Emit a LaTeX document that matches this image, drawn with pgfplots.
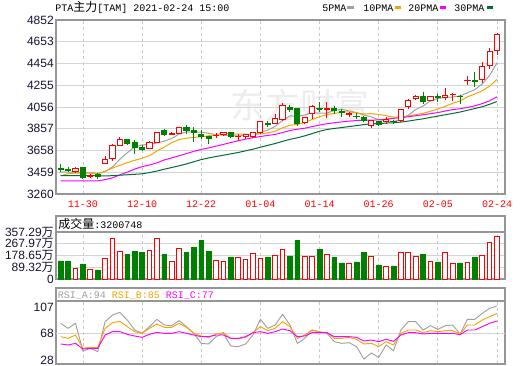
\documentclass[border=0pt]{standalone}
\usepackage{fontspec}
\setmainfont{Liberation Sans}
\newfontfamily\mono{Liberation Mono}
\newfontfamily\cjk{Noto Sans CJK SC}
\usepackage{pgfplots}
\usepackage{pgfplotstable}
\pgfplotsset{compat=1.18}
\usepgfplotslibrary{statistics}
\definecolor{dgreen}{RGB}{0,128,0}
\definecolor{ma5c}{RGB}{160,160,160}
\definecolor{ma10c}{RGB}{245,165,0}
\definecolor{ma20c}{RGB}{255,0,255}
\definecolor{ma30c}{RGB}{0,110,55}
\definecolor{gridh}{RGB}{212,212,212}
\definecolor{gridv}{RGB}{200,200,200}
\definecolor{bordc}{RGB}{150,150,150}
\definecolor{labc}{RGB}{20,20,50}

% candle: {index}{low}{body low}{body high}{high}
\newcommand{\upc}[5]{\addplot[draw=red,fill=white,line width=0.75pt,boxplot prepared={draw position=#1,lower whisker=#2,lower quartile=#3,median=#3,upper quartile=#4,upper whisker=#5}] coordinates {};}
\newcommand{\dnc}[5]{\addplot[draw=dgreen,fill=dgreen,line width=0.75pt,boxplot prepared={draw position=#1,lower whisker=#2,lower quartile=#3,median=#3,upper quartile=#4,upper whisker=#5}] coordinates {};}

\pgfplotstableread{
i ma5 ma10 ma20 ma30
0 3460 3427 3380 3428
1 3460 3445 3380 3428
2 3458 3452 3380 3428
3 3455 3452 3380 3428
4 3457 3450 3380 3428
5 3445 3448 3380 3428
6 3465 3468 3392 3425
7 3508 3497 3408 3428
8 3578 3522 3435 3432
9 3637 3547 3460 3436
10 3691 3568 3488 3440
11 3709 3587 3510 3445
12 3714 3611 3525 3456
13 3727 3653 3545 3470
14 3743 3690 3572 3487
15 3768 3729 3590 3502
16 3807 3758 3610 3518
17 3829 3771 3630 3535
18 3828 3777 3650 3555
19 3825 3784 3668 3575
20 3816 3792 3682 3590
21 3803 3805 3698 3603
22 3798 3814 3714 3615
23 3792 3810 3731 3627
24 3791 3808 3747 3640
25 3798 3807 3762 3655
26 3803 3803 3775 3670
27 3823 3811 3786 3688
28 3845 3819 3796 3705
29 3879 3835 3805 3722
30 3933 3865 3822 3742
31 3975 3889 3841 3760
32 3971 3897 3853 3774
33 3983 3914 3862 3792
34 4005 3942 3877 3813
35 3999 3966 3891 3834
36 4001 3988 3903 3850
37 4024 3997 3912 3860
38 4035 4009 3920 3868
39 4020 4012 3927 3877
40 4005 4002 3932 3886
41 3983 3992 3935 3895
42 3965 3995 3936 3902
43 3941 3988 3938 3904
44 3931 3976 3945 3909
45 3922 3964 3952 3912
46 3944 3963 3960 3918
47 3981 3973 3967 3927
48 4032 3986 3976 3938
49 4065 3998 3985 3948
50 4112 4017 3995 3961
51 4134 4039 4005 3973
52 4143 4062 4019 3985
53 4148 4090 4032 3997
54 4157 4111 4040 4010
55 4186 4149 4051 4026
56 4215 4174 4067 4042
57 4267 4205 4087 4058
58 4345 4247 4113 4081
59 4460 4308 4149 4106
}\matab

\pgfplotstableread{
i a b c
0 83 63 52
1 75.5 60.5 50.5
2 83 65.5 53
3 41.5 45.5 44.5
4 45.5 47 45.5
5 40.5 46.5 45.5
6 85.5 75.5 65.5
7 95.5 84 70.5
8 99.5 86 70.5
9 88 78 66.5
10 73 70.5 64
11 68 68 62
12 78 75.5 66.5
13 89 82 69.5
14 80.5 77 68
15 79.5 77 68
16 87 83 70.5
17 78 77 68
18 68 68 65.5
19 53 64 63
20 52 62 63
21 63 67 65.5
22 68 69 65.5
23 49 60.5 60.5
24 48 60 60.5
25 52 62 63
26 65.5 69 69
27 89 78 70.5
28 75.5 72 68
29 80.5 75.5 70.5
30 96.5 85.5 74.5
31 80.5 78 72
32 53 60.5 63
33 60.5 65.5 64
34 73 73 69
35 70.5 69.5 69
36 68 69.5 69
37 55.5 60.5 63
38 53 60.5 63
39 54 62 63
40 48 59 62
41 29.5 52 56.5
42 38.5 53 58
43 32 48 55.5
44 50.5 55.5 59
45 42 50.5 56
46 73 68 65.5
47 85.5 73 69
48 85.5 73 69
49 73 69 67
50 79.5 72 68
51 74 70.5 68
52 79.5 72 68
53 80.5 72 68
54 67 67 66
55 89 80.5 73
56 89 80.5 73
57 98 88 78
58 105.5 93 83
59 109 98 86.5
}\rsitab

\pgfplotsset{
  panel/.style={anchor=south west, width=336.75pt, scale only axis,
    xmin=-0.64, xmax=60.08,
    xtick={3,11,19,27,35,43,51,59},
    tick style={draw=none}, major tick length=0pt,
    xmajorgrids,
    x grid style={gridv, dash pattern=on 2.2pt off 2.2pt, line width=0.6pt},
    y grid style={gridh, line width=0.6pt},
    axis line style={bordc, line width=0.9pt},
    yticklabel style={font=\fontsize{9}{9}\selectfont, text=labc, inner sep=1.5pt},
  }
}

\begin{document}
\begin{tikzpicture}
\useasboundingbox (0,0) rectangle (390pt,273.75pt);
\begin{scope}[x=0.75pt,y=-0.75pt,yshift=273.75pt]
  \node[text=black!7, font=\cjk\fontsize{26}{26}\selectfont] at (300,105) {东方财富};
\end{scope}

% ---------------- main candlestick panel
\begin{axis}[panel,
  at={(42pt,128.25pt)}, height=130.5pt,
  ymin=3260, ymax=4852,
  ytick={3260,3459,3658,3857,4056,4255,4454,4653,4852},
  yticklabels={3260,3459,3658,3857,4056,4255,4454,4653,4852},
  ymajorgrids,
  xticklabels={11-30,12-10,12-22,01-04,01-14,01-26,02-05,02-24},
  xticklabel style={font=\mono\fontsize{7.5}{8}\selectfont, text=red, yshift=-1.5pt},
  boxplot/draw direction=y, boxplot/box extend=0.7, boxplot/whisker extend=0,
]
\addplot[ma5c, line width=0.75pt] table[x=i,y=ma5] {\matab};
\addplot[ma10c, line width=0.75pt] table[x=i,y=ma10] {\matab};
\addplot[ma20c, line width=0.75pt] table[x=i,y=ma20] {\matab};
\addplot[ma30c, line width=0.75pt] table[x=i,y=ma30] {\matab};
\dnc{0}{3464}{3482}{3491}{3535}
\dnc{1}{3464}{3475}{3480}{3510}
\upc{2}{3460}{3465}{3495}{3504}
\dnc{3}{3400}{3409}{3504}{3510}
\upc{4}{3415}{3418}{3425}{3440}
\dnc{5}{3397}{3420}{3438}{3449}
\upc{6}{3535}{3541}{3578}{3610}
\upc{7}{3560}{3583}{3706}{3715}
\upc{8}{3700}{3708}{3760}{3780}
\dnc{9}{3712}{3720}{3755}{3760}
\dnc{10}{3625}{3690}{3727}{3754}
\dnc{11}{3656}{3668}{3684}{3706}
\upc{12}{3672}{3678}{3733}{3745}
\upc{13}{3730}{3733}{3825}{3830}
\dnc{14}{3790}{3800}{3837}{3852}
\upc{15}{3800}{3808}{3812}{3825}
\upc{16}{3812}{3815}{3864}{3870}
\dnc{17}{3812}{3842}{3864}{3894}
\dnc{18}{3733}{3820}{3840}{3870}
\dnc{19}{3760}{3788}{3803}{3846}
\dnc{20}{3715}{3767}{3785}{3790}
\upc{21}{3769}{3792}{3796}{3821}
\upc{22}{3795}{3800}{3821}{3830}
\dnc{23}{3768}{3787}{3821}{3827}
\upc{24}{3748}{3786}{3790}{3812}
\upc{25}{3760}{3783}{3800}{3812}
\upc{26}{3775}{3785}{3821}{3830}
\upc{27}{3815}{3821}{3922}{3925}
\dnc{28}{3870}{3898}{3903}{3931}
\upc{29}{3898}{3907}{3955}{3992}
\upc{30}{3935}{3940}{4068}{4090}
\dnc{31}{4007}{4030}{4053}{4074}
\dnc{32}{3885}{3903}{4044}{4050}
\upc{33}{3905}{3912}{3961}{3965}
\upc{34}{3945}{4001}{4062}{4074}
\dnc{35}{4013}{4038}{4042}{4099}
\upc{36}{3958}{4035}{4039}{4099}
\dnc{37}{3992}{4020}{4044}{4068}
\dnc{38}{3960}{4005}{4018}{4037}
\upc{39}{3967}{3987}{3992}{4013}
\dnc{40}{3943}{3965}{3970}{4001}
\dnc{41}{3922}{3928}{3961}{3970}
\upc{42}{3861}{3891}{3931}{3935}
\dnc{43}{3888}{3892}{3922}{3925}
\upc{44}{3903}{3922}{3940}{3961}
\dnc{45}{3905}{3920}{3925}{3940}
\upc{46}{3925}{3931}{4035}{4040}
\upc{47}{4040}{4059}{4117}{4132}
\upc{48}{4117}{4130}{4148}{4169}
\dnc{49}{4081}{4105}{4154}{4196}
\upc{50}{4112}{4117}{4154}{4160}
\dnc{51}{4105}{4147}{4152}{4178}
\upc{52}{4120}{4145}{4163}{4227}
\upc{53}{4111}{4168}{4172}{4184}
\dnc{54}{4086}{4148}{4153}{4163}
\upc{55}{4255}{4298}{4302}{4340}
\dnc{56}{4242}{4292}{4296}{4379}
\upc{57}{4273}{4309}{4425}{4465}
\upc{58}{4401}{4437}{4562}{4593}
\upc{59}{4535}{4577}{4721}{4736}
\end{axis}

% ---------------- volume panel
\begin{axis}[panel,
  at={(42pt,64.5pt)}, height=35.25pt,
  ymin=0, ymax=357.29,
  ytick={0,89.32,178.65,267.97,357.29},
  yticklabels={0,89.32{\cjk 万},178.65{\cjk 万},267.97{\cjk 万},357.29{\cjk 万}},
  ymajorgrids,
  xticklabels={},
]
\addplot[ybar, bar width=0.64, bar shift=0pt, fill=dgreen, draw=dgreen, line width=0.5pt] coordinates {
(0,138) (1,138) (3,115) (5,69) (9,184) (10,207) (11,199) (14,184) (17,199) (18,237) (19,291) (20,207) (23,168) (28,168) (31,176) (32,291) (35,222) (37,161) (38,122) (40,130) (41,199) (43,107) (45,100) (49,184) (51,130) (54,122) (56,168)};
\addplot[ybar, bar width=0.64, bar shift=0pt, fill=white, draw=red, line width=0.75pt] coordinates {
(2,77) (4,74) (6,158) (7,311) (8,212) (12,219) (13,311) (15,135) (16,235) (21,143) (22,135) (24,166) (25,151) (26,191) (27,158) (29,176) (30,227) (33,168) (34,168) (36,189) (39,115) (42,168) (44,97) (46,204) (47,199) (48,168) (50,130) (52,199) (53,115) (55,122) (57,176) (58,276) (59,320)};
\end{axis}

% ---------------- RSI panel
\begin{axis}[panel,
  at={(42pt,0.75pt)}, height=47.25pt,
  ymin=22, ymax=116.5,
  ytick={28,107}, yticklabels={28,107},
  extra y ticks={68}, extra y tick labels={68},
  extra y tick style={grid=major},
  xticklabels={},
]
\addplot[ma5c, line width=0.7pt] table[x=i,y=a] {\rsitab};
\addplot[ma10c, line width=0.7pt] table[x=i,y=b] {\rsitab};
\addplot[ma20c, line width=0.7pt] table[x=i,y=c] {\rsitab};
\end{axis}

% ---------------- titles, legend, title bands
\begin{scope}[x=0.75pt,y=-0.75pt,yshift=273.75pt]
  \node[anchor=base west, inner sep=0pt] at (55,11.5)
    {\mono\fontsize{7.5}{8}\selectfont PTA{\cjk\fontsize{9}{9}\selectfont 主力}[TAM] 2021-02-24 15:00};
  \node[anchor=base west, inner sep=0pt] at (322,11.5) {\mono\fontsize{7.5}{8}\selectfont 5PMA};
  \fill[ma5c] (347,6.5) rectangle (354,9.3);
  \node[anchor=base west, inner sep=0pt] at (363,11.5) {\mono\fontsize{7.5}{8}\selectfont 10PMA};
  \fill[ma10c] (395,6.5) rectangle (401,9.3);
  \node[anchor=base west, inner sep=0pt] at (408,11.5) {\mono\fontsize{7.5}{8}\selectfont 20PMA};
  \fill[ma20c] (440,6.5) rectangle (446,9.3);
  \node[anchor=base west, inner sep=0pt] at (454,11.5) {\mono\fontsize{7.5}{8}\selectfont 30PMA};
  \fill[ma30c] (487,6.5) rectangle (493,9.3);

  \draw[bordc, line width=0.9pt] (56,232) -- (56,216) -- (505,216) -- (505,232);
  \node[anchor=base west, inner sep=0pt] at (58,228.5)
    {{\cjk\fontsize{9}{9}\selectfont 成交量}\mono\fontsize{7.5}{8}\selectfont :3200748};

  \draw[bordc, line width=0.9pt] (56,301) -- (56,288) -- (505,288) -- (505,301);
  \node[anchor=base west, inner sep=0pt] at (57.5,298.5)
    {\mono\fontsize{7.5}{8}\selectfont {\color{ma5c}RSI\_A:94} {\color{ma10c}RSI\_B:85} {\color{ma20c}RSI\_C:77}};
\end{scope}
\end{tikzpicture}
\end{document}
